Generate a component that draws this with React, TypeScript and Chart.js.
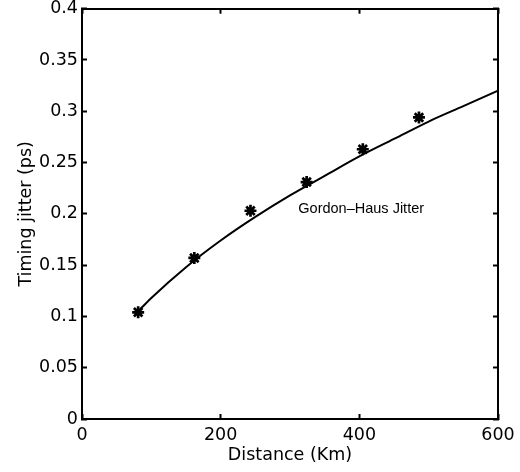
import React, { useEffect, useRef } from "react";
import { Chart, registerables } from "chart.js";

Chart.register(...registerables);

// Measured timing jitter (stars)
const distanceKm = [81, 162, 243, 324, 405, 486];
const measuredJitter = [0.104, 0.157, 0.203, 0.231, 0.263, 0.294];

// Gordon–Haus theoretical curve (solid line)
const curveKm = [81, 100, 150, 200, 250, 300, 350, 400, 450, 500, 550, 600];
const curveJitter = [0.105, 0.118, 0.148, 0.174, 0.197, 0.218, 0.237, 0.256, 0.273, 0.29, 0.305, 0.32];

// Axes
const xTickValues = [0, 200, 400, 600];
const xTickLabels = ["0", "200", "400", "600"];
const yTickValues = [0, 0.05, 0.1, 0.15, 0.2, 0.25, 0.3, 0.35, 0.4];
const yTickLabels = ["0", "0.05", "0.1", "0.15", "0.2", "0.25", "0.3", "0.35", "0.4"];
const xTitle = "Distance (Km)";
const yTitle = "Timing jitter (ps)";

// Text annotation (data coordinates)
const annotationText = "Gordon\u2013Haus Jitter";
const annotationAt = [312, 0.205];

const FONT = "'DejaVu Sans', Verdana, sans-serif";
const NOTE_FONT = "'Liberation Sans', Arial, Helvetica, sans-serif";

const annotationPlugin = {
  id: "ghAnnotation",
  afterDatasetsDraw(chart: any) {
    const { ctx, scales } = chart;
    const x = scales.x.getPixelForValue(annotationAt[0]);
    const y = scales.y.getPixelForValue(annotationAt[1]);
    ctx.save();
    ctx.font = `14.5px ${NOTE_FONT}`;
    ctx.fillStyle = "#000";
    ctx.textAlign = "left";
    ctx.textBaseline = "middle";
    ctx.fillText(annotationText, x, y);
    ctx.restore();
  },
};

const whiteBg = {
  id: "whiteBg",
  beforeDraw(chart: any) {
    const { ctx, width, height } = chart;
    ctx.save();
    ctx.fillStyle = "#fff";
    ctx.fillRect(0, 0, width, height);
    ctx.restore();
  },
};

export default function App() {
  const ref = useRef<HTMLCanvasElement | null>(null);

  useEffect(() => {
    if (!ref.current) return;
    const setTicks = (vals: number[]) => (s: any) => {
      s.ticks = vals.map((v) => ({ value: v }));
    };
    const fixSize = (prop: "width" | "height", size: number) => (s: any) => {
      s[prop] = size;
      s.paddingLeft = 0;
      s.paddingRight = 0;
      s.paddingTop = 0;
      s.paddingBottom = 0;
    };
    const grid = {
      display: true,
      drawOnChartArea: false,
      drawTicks: true,
      tickLength: -5,
      tickWidth: 2,
      tickColor: "#000",
      color: "transparent",
    };
    const border = { display: true, color: "#000", width: 2 };
    const chart = new Chart(ref.current, {
      type: "line",
      data: {
        datasets: [
          {
            label: "Gordon-Haus",
            data: curveKm.map((x, i) => ({ x, y: curveJitter[i] })),
            borderColor: "#000",
            borderWidth: 2,
            pointRadius: 0,
            fill: false,
            cubicInterpolationMode: "monotone",
          },
          {
            label: "Measured",
            data: distanceKm.map((x, i) => ({ x, y: measuredJitter[i] })),
            showLine: false,
            pointStyle: "star",
            pointRadius: 6,
            borderColor: "#000",
            backgroundColor: "#000",
            pointBorderWidth: 2.7,
          },
        ],
      },
      options: {
        responsive: true,
        maintainAspectRatio: false,
        animation: false,
        layout: { padding: { left: 0, top: 7, right: 22, bottom: 0 } },
        plugins: {
          legend: { display: false },
          tooltip: { enabled: false },
        },
        scales: {
          x: {
            type: "linear",
            position: "bottom",
            min: 0,
            max: 600,
            afterBuildTicks: setTicks(xTickValues),
            afterFit: fixSize("height", 53),
            grid,
            border,
            ticks: {
              color: "#000",
              padding: 11,
              maxRotation: 0,
              font: { family: FONT, size: 17.5 },
              callback: (_v: any, i: number) => xTickLabels[i],
            },
            title: {
              display: true,
              text: xTitle,
              color: "#000",
              font: { family: FONT, size: 17.5 },
              padding: { top: 0, bottom: 6 },
            },
          },
          y: {
            type: "linear",
            position: "left",
            min: 0,
            max: 0.4,
            afterBuildTicks: setTicks(yTickValues),
            afterFit: fixSize("width", 82),
            grid,
            border,
            ticks: {
              color: "#000",
              padding: 9,
              font: { family: FONT, size: 17.5 },
              callback: (_v: any, i: number) => yTickLabels[i],
            },
            title: {
              display: true,
              text: yTitle,
              color: "#000",
              font: { family: FONT, size: 17.5 },
              padding: { top: 16, bottom: 0 },
            },
          },
          x2: {
            type: "linear",
            position: "top",
            min: 0,
            max: 600,
            afterBuildTicks: setTicks(xTickValues),
            afterFit: fixSize("height", 0),
            grid,
            border,
            ticks: { display: false },
          },
          y2: {
            type: "linear",
            position: "right",
            min: 0,
            max: 0.4,
            afterBuildTicks: setTicks(yTickValues),
            afterFit: fixSize("width", 0),
            grid,
            border,
            ticks: { display: false },
          },
        },
      } as any,
      plugins: [whiteBg, annotationPlugin],
    });
    return () => chart.destroy();
  }, []);

  return (
    <div style={{ position: "fixed", left: 0, top: 0, width: 520, height: 472, background: "#fff" }}>
      <canvas ref={ref} />
    </div>
  );
}
